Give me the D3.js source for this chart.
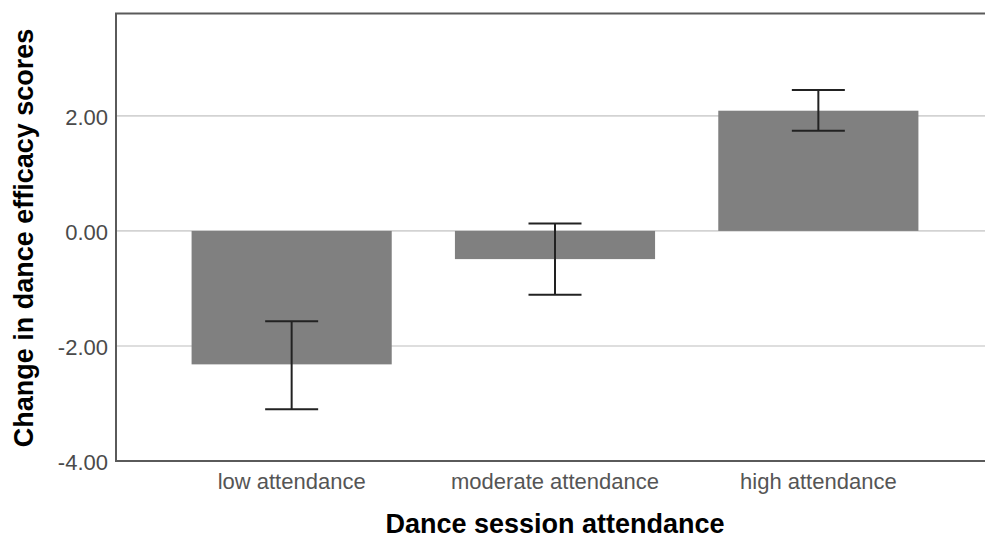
<!DOCTYPE html>
<html>
<head>
<meta charset="utf-8">
<script src="https://cdn.jsdelivr.net/npm/d3@7"></script>
<style>
  body { margin: 0; background: #fff; overflow: hidden; }
  svg { display: block; font-family: "Liberation Sans", Arial, sans-serif; }
</style>
</head>
<body>
<script>
var width = 985, height = 537;

// chart data
var categories = ["low attendance", "moderate attendance", "high attendance"];
var means = [-2.32, -0.49, 2.09];
var ciLow = [-3.10, -1.11, 1.74];
var ciHigh = [-1.57, 0.13, 2.45];
var yTicks = [-4, -2, 0, 2];

var margin = {top: 13.5, left: 116, bottom: 76, right: -9};

var svg = d3.select("body")
    .append("svg")
    .attr("width", width)
    .attr("height", height);

var x = d3.scaleBand()
    .domain(categories)
    .range([margin.left, width - margin.right])
    .paddingInner(0.24)
    .paddingOuter(0.287);

var y = d3.scaleLinear()
    .domain([-4, 3.78])
    .range([height - margin.bottom, margin.top]);

// gridlines
svg.append("g")
    .selectAll("line")
    .data(yTicks.filter(function (d) { return d > -4; }))
    .enter()
    .append("line")
    .attr("x1", margin.left)
    .attr("x2", width - margin.right)
    .attr("y1", function (d) { return y(d); })
    .attr("y2", function (d) { return y(d); })
    .style("stroke", "#d3d3d3")
    .style("stroke-width", 1.6);

// bars
svg.append("g")
    .selectAll("rect")
    .data(categories)
    .enter()
    .append("rect")
    .attr("x", function (d) { return x(d); })
    .attr("width", x.bandwidth())
    .attr("y", function (d, i) { return Math.min(y(means[i]), y(0)); })
    .attr("height", function (d, i) { return Math.abs(y(means[i]) - y(0)); })
    .style("fill", "#808080");

// error bars
var capW = 53;
var eb = svg.append("g")
    .selectAll("g")
    .data(categories)
    .enter()
    .append("g")
    .style("stroke", "#222")
    .style("stroke-width", 2);

eb.append("line")
    .attr("x1", function (d) { return x(d) + x.bandwidth() / 2; })
    .attr("x2", function (d) { return x(d) + x.bandwidth() / 2; })
    .attr("y1", function (d, i) { return y(ciLow[i]); })
    .attr("y2", function (d, i) { return y(ciHigh[i]); });

eb.selectAll(".cap")
    .data(function (d, i) { return [{c: d, v: ciLow[i]}, {c: d, v: ciHigh[i]}]; })
    .enter()
    .append("line")
    .attr("class", "cap")
    .attr("x1", function (d) { return x(d.c) + x.bandwidth() / 2 - capW / 2; })
    .attr("x2", function (d) { return x(d.c) + x.bandwidth() / 2 + capW / 2; })
    .attr("y1", function (d) { return y(d.v); })
    .attr("y2", function (d) { return y(d.v); });

// frame
svg.append("rect")
    .attr("x", margin.left)
    .attr("y", margin.top)
    .attr("width", width - margin.right - margin.left)
    .attr("height", y(-4) - margin.top)
    .style("fill", "none")
    .style("stroke", "#5a5a5a")
    .style("stroke-width", 2);

// y axis labels (plain hyphen for negatives, as in the original)
var fmt = d3.format(".2f");
var yAxis = svg.append("g")
    .attr("transform", "translate(" + margin.left + ",0)")
    .call(d3.axisLeft(y).tickValues(yTicks).tickSize(0).tickPadding(8)
        .tickFormat(function (d) { return fmt(d).replace("\u2212", "-"); }));
yAxis.select(".domain").remove();
yAxis.selectAll("text")
    .attr("dy", "0.4em")
    .style("font-family", "'Liberation Sans', Arial, sans-serif")
    .style("font-size", "22px")
    .style("fill", "#4a4a4a");

// x axis labels
var xAxis = svg.append("g")
    .attr("transform", "translate(0," + y(-4) + ")")
    .call(d3.axisBottom(x).tickSize(0).tickPadding(12));
xAxis.select(".domain").remove();
xAxis.selectAll("text")
    .style("font-family", "'Liberation Sans', Arial, sans-serif")
    .style("font-size", "22px")
    .style("fill", "#555");

// axis titles
svg.append("text")
    .attr("x", (margin.left + width - margin.right) / 2)
    .attr("y", 533)
    .attr("text-anchor", "middle")
    .style("font-size", "27px")
    .style("font-weight", "bold")
    .style("fill", "#000")
    .text("Dance session attendance");

svg.append("text")
    .attr("transform", "translate(33," + 238 + ") rotate(-90)")
    .attr("text-anchor", "middle")
    .style("font-size", "27px")
    .style("font-weight", "bold")
    .style("fill", "#000")
    .text("Change in dance efficacy scores");
</script>
</body>
</html>
